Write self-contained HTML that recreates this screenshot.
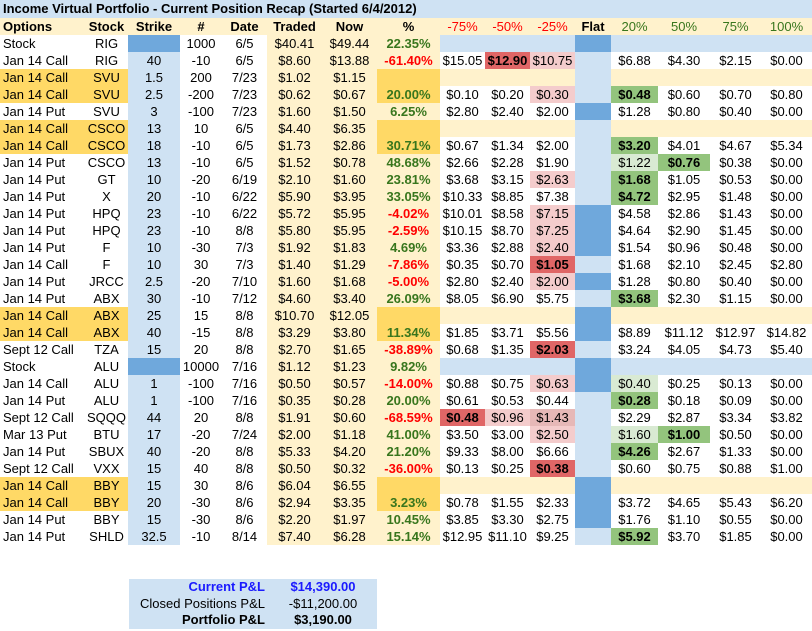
<!DOCTYPE html>
<html><head><meta charset="utf-8">
<style>
body{margin:0;width:812px;height:631px;background:#fff;overflow:hidden;font-family:"Liberation Sans",Arial,sans-serif;font-size:13px;color:#000;position:relative}
.c{position:absolute;height:17px;line-height:17px;white-space:nowrap;overflow:hidden;text-align:center;box-sizing:border-box}
.l{text-align:left;padding-left:3px}
.b{font-weight:bold}
#title{position:absolute;left:0;top:0;width:812px;height:18px;line-height:18px;background:#cfe2f3;font-weight:bold;padding-left:3px;box-sizing:border-box}
#summary{position:absolute;left:129px;top:579px;width:248px;height:50px;background:#cfe2f3}
.sr{position:absolute;height:16.7px;line-height:16.7px;white-space:nowrap}
</style></head>
<body>
<div id="title">Income Virtual Portfolio - Current Position Recap (Started 6/4/2012)</div>
<div id="grid"></div>
<div id="summary">
  <div class="sr b" style="left:0;width:136px;text-align:right;top:0;color:#1a1aff">Current P&amp;L</div>
  <div class="sr b" style="left:150px;width:88px;text-align:center;top:0;color:#1a1aff">$14,390.00</div>
  <div class="sr" style="left:0;width:136px;text-align:right;top:16.7px">Closed Positions P&amp;L</div>
  <div class="sr" style="left:150px;width:88px;text-align:center;top:16.7px">-$11,200.00</div>
  <div class="sr b" style="left:0;width:136px;text-align:right;top:33.4px">Portfolio P&amp;L</div>
  <div class="sr b" style="left:150px;width:88px;text-align:center;top:33.4px">$3,190.00</div>
</div>
<script>
const headers=["Options","Stock","Strike","#","Date","Traded","Now","%","-75%","-50%","-25%","Flat","20%","50%","75%","100%"];
const rowTypes=["s","n","p","q","n","p","q","n","n","n","n","n","n","n","n","n","p","q","n","s","n","n","n","n","n","n","p","q","n","n"];
const flatTypes="dlllldllllddddldddldllllllddddl".split("").slice(0,30);
const options=["Stock","Jan 14 Call","Jan 14 Call","Jan 14 Call","Jan 14 Put","Jan 14 Call","Jan 14 Call","Jan 14 Put","Jan 14 Put","Jan 14 Put","Jan 14 Put","Jan 14 Put","Jan 14 Put","Jan 14 Call","Jan 14 Put","Jan 14 Put","Jan 14 Call","Jan 14 Call","Sept 12 Call","Stock","Jan 14 Call","Jan 14 Put","Sept 12 Call","Mar 13 Put","Jan 14 Put","Sept 12 Call","Jan 14 Call","Jan 14 Call","Jan 14 Put","Jan 14 Put"];
const stocks=["RIG","RIG","SVU","SVU","SVU","CSCO","CSCO","CSCO","GT","X","HPQ","HPQ","F","F","JRCC","ABX","ABX","ABX","TZA","ALU","ALU","ALU","SQQQ","BTU","SBUX","VXX","BBY","BBY","BBY","SHLD"];
const strikes=["","40","1.5","2.5","3","13","18","13","10","20","23","23","10","10","2.5","30","25","40","15","","1","1","44","17","40","15","15","20","15","32.5"];
const qty=["1000","-10","200","-200","-100","10","-10","-10","-20","-10","-10","-10","-30","30","-20","-10","15","-15","20","10000","-100","-100","20","-20","-20","40","30","-30","-30","-10"];
const dates=["6/5","6/5","7/23","7/23","7/23","6/5","6/5","6/5","6/19","6/22","6/22","8/8","7/3","7/3","7/10","7/12","8/8","8/8","8/8","7/16","7/16","7/16","8/8","7/24","8/8","8/8","8/6","8/6","8/6","8/14"];
const traded=["$40.41","$8.60","$1.02","$0.62","$1.60","$4.40","$1.73","$1.52","$2.10","$5.90","$5.72","$5.80","$1.92","$1.40","$1.60","$4.60","$10.70","$3.29","$2.70","$1.12","$0.50","$0.35","$1.91","$2.00","$5.33","$0.50","$6.04","$2.94","$2.20","$7.40"];
const nowPx=["$49.44","$13.88","$1.15","$0.67","$1.50","$6.35","$2.86","$0.78","$1.60","$3.95","$5.95","$5.95","$1.83","$1.29","$1.68","$3.40","$12.05","$3.80","$1.65","$1.23","$0.57","$0.28","$0.60","$1.18","$4.20","$0.32","$6.55","$3.35","$1.97","$6.28"];
const pct=["22.35%","-61.40%","","20.00%","6.25%","","30.71%","48.68%","23.81%","33.05%","-4.02%","-2.59%","4.69%","-7.86%","-5.00%","26.09%","","11.34%","-38.89%","9.82%","-14.00%","20.00%","-68.59%","41.00%","21.20%","-36.00%","","3.23%","10.45%","15.14%"];
const scen=[
null,["$15.05","$12.90","$10.75","$6.88","$4.30","$2.15","$0.00"],null,
["$0.10","$0.20","$0.30","$0.48","$0.60","$0.70","$0.80"],
["$2.80","$2.40","$2.00","$1.28","$0.80","$0.40","$0.00"],null,
["$0.67","$1.34","$2.00","$3.20","$4.01","$4.67","$5.34"],
["$2.66","$2.28","$1.90","$1.22","$0.76","$0.38","$0.00"],
["$3.68","$3.15","$2.63","$1.68","$1.05","$0.53","$0.00"],
["$10.33","$8.85","$7.38","$4.72","$2.95","$1.48","$0.00"],
["$10.01","$8.58","$7.15","$4.58","$2.86","$1.43","$0.00"],
["$10.15","$8.70","$7.25","$4.64","$2.90","$1.45","$0.00"],
["$3.36","$2.88","$2.40","$1.54","$0.96","$0.48","$0.00"],
["$0.35","$0.70","$1.05","$1.68","$2.10","$2.45","$2.80"],
["$2.80","$2.40","$2.00","$1.28","$0.80","$0.40","$0.00"],
["$8.05","$6.90","$5.75","$3.68","$2.30","$1.15","$0.00"],null,
["$1.85","$3.71","$5.56","$8.89","$11.12","$12.97","$14.82"],
["$0.68","$1.35","$2.03","$3.24","$4.05","$4.73","$5.40"],null,
["$0.88","$0.75","$0.63","$0.40","$0.25","$0.13","$0.00"],
["$0.61","$0.53","$0.44","$0.28","$0.18","$0.09","$0.00"],
["$0.48","$0.96","$1.43","$2.29","$2.87","$3.34","$3.82"],
["$3.50","$3.00","$2.50","$1.60","$1.00","$0.50","$0.00"],
["$9.33","$8.00","$6.66","$4.26","$2.67","$1.33","$0.00"],
["$0.13","$0.25","$0.38","$0.60","$0.75","$0.88","$1.00"],null,
["$0.78","$1.55","$2.33","$3.72","$4.65","$5.43","$6.20"],
["$3.85","$3.30","$2.75","$1.76","$1.10","$0.55","$0.00"],
["$12.95","$11.10","$9.25","$5.92","$3.70","$1.85","$0.00"]];
const marks=[".......",".Dr....",".......","..rG...",".......",".......","...G...","...gG..","..rG...","...G...","..r....","..r....","..r....","..D....","..r....","...G...",".......",".......","..D....",".......","..rg...","...G...","Drs....","..rgG..","...G...","..D....",".......",".......",".......","...G..."];
const flats=["d","l","l","l","d","l","l","l","l","l","d","d","d","l","d","l","d","d","l","d","d","l","l","l","l","l","d","d","d","l"];

const xs=[0,85,128,180,222,267,322,377,440,485,530,575,611,658,710,761,812];
const names=["options","stock","strike","qty","date","traded","now","pct","down75","down50","down25","flat","up20","up50","up75","up100"];
const grid=document.getElementById('grid');
const RH=17,TOP0=18;
const BEIGE="#fff2cc",ORANGE="#ffd966",LBLUE="#cfe2f3",DBLUE="#6fa8dc",GREENT="#38761d",REDT="#ff0000";
const markBg={D:"#e06666",r:"#f4cccc",s:"#e6b8b7",G:"#93c47d",g:"#d9ead3"};
function cell(ci,top,text,bg,extra){
  const d=document.createElement('div');
  d.className='c'+(ci===0?' l':'');
  d.style.left=xs[ci]+'px';d.style.width=(xs[ci+1]-xs[ci])+'px';d.style.top=top+'px';
  if(bg)d.style.background=bg;
  if(extra)Object.assign(d.style,extra);
  d.textContent=text;
  grid.appendChild(d);
  return d;
}
// header
headers.forEach((h,i)=>{
  let ex={};
  if(i>=8&&i<=10)ex.color=REDT;
  else if(i>=12)ex.color=GREENT;
  else ex.fontWeight='bold';
  if(i===11)ex.fontWeight='bold';
  const d=cell(i,TOP0,h,BEIGE,ex);
  
  
});
for(let r=0;r<30;r++){
  const t=rowTypes[r],top=TOP0+RH*(r+1);
  const sc=scen[r]||["","","","","","",""];
  const vals=[options[r],stocks[r],strikes[r],qty[r],dates[r],traded[r],nowPx[r],pct[r],sc[0],sc[1],sc[2],"",sc[3],sc[4],sc[5],sc[6]];
  for(let i=0;i<16;i++){
    let bg=null,ex={};
    if(i<=1){ if(t==='p'||t==='q')bg=ORANGE; }
    else if(i===2){ bg=(t==='s')?DBLUE:LBLUE; }
    else if(i===5||i===6){ bg=BEIGE; }
    else if(i===7){ bg=(t==='p'||t==='q')?ORANGE:BEIGE; ex.fontWeight='bold'; ex.color=(vals[7].charAt(0)==='-')?REDT:GREENT; }
    else if(i===11){ bg=flats[r]==='d'?DBLUE:LBLUE; }
    else if(i>=8){
      if(t==='s')bg=LBLUE; else if(t==='p')bg=BEIGE;
      const k=i<11?i-8:i-9;
      const m=marks[r].charAt(k);
      if(m!=='.'){bg=markBg[m]; if(m==='D'||m==='G')ex.fontWeight='bold';}
    }
    const d=cell(i,top,vals[i],bg,ex);
    
    
  }
}
</script>
</body></html>
